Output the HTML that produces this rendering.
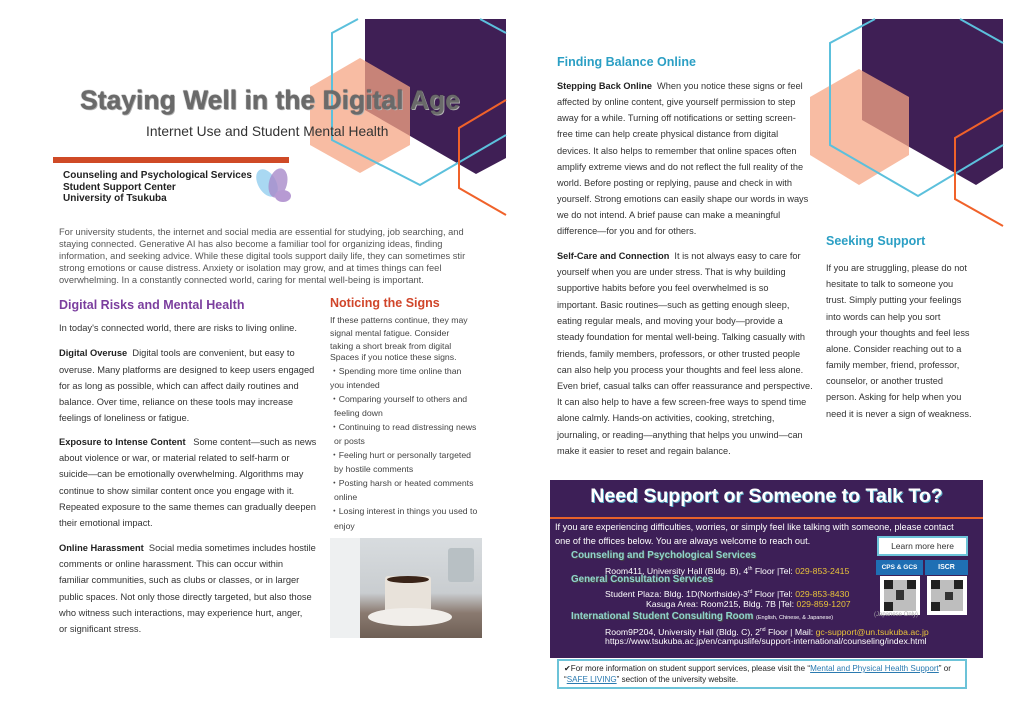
<!DOCTYPE html>
<html><head><meta charset="utf-8"><style>
*{margin:0;padding:0;box-sizing:border-box}
body{width:1024px;height:724px;position:relative;overflow:hidden;background:#fff;font-family:"Liberation Sans",sans-serif;color:#333}
.a{position:absolute;white-space:nowrap}
.t{position:absolute;white-space:nowrap;font-size:9.3px;line-height:16px;height:16px;color:#333}
.r{position:absolute;white-space:nowrap;font-size:9.2px;line-height:16px;height:16px;color:#333}
.s{position:absolute;white-space:nowrap;font-size:8.7px;line-height:14px;height:14px;color:#444}
.i{position:absolute;white-space:nowrap;font-size:9.3px;line-height:12px;color:#555}
b{font-weight:bold;color:#222}
.h{position:absolute;white-space:nowrap;font-weight:bold;font-size:12.5px}
.w{position:absolute;white-space:nowrap;font-size:9.2px;line-height:14px;color:#fff}
.org{position:absolute;white-space:nowrap;font-weight:bold;font-size:9.8px;line-height:12px;color:#8fd2cf;text-shadow:0 0 1px #555,1px 1px 0 #444}
.y{color:#e8c23a}
</style></head><body>
<svg class="a" style="left:0;top:0" width="1024" height="724">
<polygon points="365,19 506,19 506,158 476,174 365,110" fill="#3f1f55"/>
<polygon points="360,58 410,87 410,145 360,173 310,145 310,87" fill="#f6a584" opacity="0.75"/>
<polyline points="358,19 332,33 332,140 420,185 506,135" fill="none" stroke="#5cc0dc" stroke-width="2"/>
<line x1="480" y1="19" x2="506" y2="33" stroke="#5cc0dc" stroke-width="2"/>
<polyline points="506,100 459,128 459,188 506,215" fill="none" stroke="#f0622a" stroke-width="2"/>
<polygon points="862,19 1003,19 1003,168 976,185 862,120" fill="#3f1f55"/>
<polygon points="859,69 909,97 909,155 859,185 810,155 810,97" fill="#f6a584" opacity="0.75"/>
<polyline points="875,19 830,43 830,145 918,196 1003,145" fill="none" stroke="#5cc0dc" stroke-width="2"/>
<line x1="960" y1="19" x2="1003" y2="43" stroke="#5cc0dc" stroke-width="2"/>
<polyline points="1003,110 955,138 955,199 1003,226" fill="none" stroke="#f0622a" stroke-width="2"/>
<ellipse cx="267" cy="183" rx="9" ry="15" transform="rotate(-30 267 183)" fill="#a9d8f2"/>
<ellipse cx="278" cy="183" rx="9" ry="15" transform="rotate(15 278 183)" fill="#a78bc9" opacity="0.8"/>
<ellipse cx="283" cy="196" rx="8" ry="6" fill="#b79ad3"/>
</svg>

<div class="a" style="left:40px;top:85px;width:460px;text-align:center;font-size:26.5px;font-weight:bold;color:#6a6a6a;text-shadow:0 0 1px #333,1px 1px 0 #bbb">Staying Well in the Digital Age</div>
<div class="a" style="left:146px;top:124px;font-size:13.8px;color:#333">Internet Use and Student Mental Health</div>
<div class="a" style="left:53px;top:157px;width:236px;height:6px;background:#cf4a26"></div>
<div class="a" style="left:63px;top:170px;font-size:10px;font-weight:bold;line-height:11.5px;color:#222">Counseling and Psychological Services<br>Student Support Center<br>University of Tsukuba</div>

<div class="i" style="left:59px;top:226px">For university students, the internet and social media are essential for studying, job searching, and</div>
<div class="i" style="left:59px;top:238px">staying connected. Generative AI has also become a familiar tool for organizing ideas, finding</div>
<div class="i" style="left:59px;top:250px">information, and seeking advice. While these digital tools support daily life, they can sometimes stir</div>
<div class="i" style="left:59px;top:262px">strong emotions or cause distress. Anxiety or isolation may grow, and at times things can feel</div>
<div class="i" style="left:59px;top:274px">overwhelming. In a constantly connected world, caring for mental well-being is important.</div>

<div class="h" style="left:59px;top:298px;color:#7b3e9e">Digital Risks and Mental Health</div>
<div class="t" style="left:59px;top:320px">In today's connected world, there are risks to living online.</div>
<div class="t" style="left:59px;top:345px"><b>Digital Overuse</b>&nbsp; Digital tools are convenient, but easy to</div>
<div class="t" style="left:59px;top:362px">overuse. Many platforms are designed to keep users engaged</div>
<div class="t" style="left:59px;top:378px">for as long as possible, which can affect daily routines and</div>
<div class="t" style="left:59px;top:394px">balance. Over time, reliance on these tools may increase</div>
<div class="t" style="left:59px;top:410px">feelings of loneliness or fatigue.</div>
<div class="t" style="left:59px;top:434px"><b>Exposure to Intense Content</b>&nbsp;&nbsp; Some content—such as news</div>
<div class="t" style="left:59px;top:450px">about violence or war, or material related to self-harm or</div>
<div class="t" style="left:59px;top:466px">suicide—can be emotionally overwhelming. Algorithms may</div>
<div class="t" style="left:59px;top:483px">continue to show similar content once you engage with it.</div>
<div class="t" style="left:59px;top:499px">Repeated exposure to the same themes can gradually deepen</div>
<div class="t" style="left:59px;top:515px">their emotional impact.</div>
<div class="t" style="left:59px;top:540px"><b>Online Harassment</b>&nbsp; Social media sometimes includes hostile</div>
<div class="t" style="left:59px;top:556px">comments or online harassment. This can occur within</div>
<div class="t" style="left:59px;top:572px">familiar communities, such as clubs or classes, or in larger</div>
<div class="t" style="left:59px;top:589px">public spaces. Not only those directly targeted, but also those</div>
<div class="t" style="left:59px;top:605px">who witness such interactions, may experience hurt, anger,</div>
<div class="t" style="left:59px;top:621px">or significant stress.</div>

<div class="h" style="left:330px;top:296px;color:#d0452a">Noticing the Signs</div>
<div class="s" style="left:330px;top:313px">If these patterns continue, they may</div>
<div class="s" style="left:330px;top:326px">signal mental fatigue. Consider</div>
<div class="s" style="left:330px;top:339px">taking a short break from digital</div>
<div class="s" style="left:330px;top:350px">Spaces if you notice these signs.</div>
<div class="s" style="left:330px;top:364px">・Spending more time online than</div>
<div class="s" style="left:330px;top:378px">you intended</div>
<div class="s" style="left:330px;top:392px">・Comparing yourself to others and</div>
<div class="s" style="left:334px;top:406px">feeling down</div>
<div class="s" style="left:330px;top:420px">・Continuing to read distressing news</div>
<div class="s" style="left:334px;top:434px">or posts</div>
<div class="s" style="left:330px;top:448px">・Feeling hurt or personally targeted</div>
<div class="s" style="left:334px;top:462px">by hostile comments</div>
<div class="s" style="left:330px;top:476px">・Posting harsh or heated comments</div>
<div class="s" style="left:334px;top:490px">online</div>
<div class="s" style="left:330px;top:504px">・Losing interest in things you used to</div>
<div class="s" style="left:334px;top:519px">enjoy</div>
<div class="a" style="left:330px;top:538px;width:152px;height:100px;background:linear-gradient(180deg,#d8dcdf 0%,#c9cdd0 55%,#8a7a70 75%,#6e5f55 100%)">
<div class="a" style="left:0;top:0;width:30px;height:100px;background:#eef0f1"></div>
<div class="a" style="left:55px;top:38px;width:46px;height:44px;background:#e8e2da;border-radius:3px 3px 8px 8px"></div>
<div class="a" style="left:57px;top:38px;width:42px;height:7px;background:#3a2418;border-radius:50%"></div>
<div class="a" style="left:38px;top:70px;width:84px;height:18px;border-radius:50%;background:#f1eeea"></div>
<div class="a" style="left:118px;top:10px;width:26px;height:34px;background:#b8c0c4;border-radius:3px"></div>
</div>

<div class="h" style="left:557px;top:55px;color:#2b9fc4">Finding Balance Online</div>
<div class="r" style="left:557px;top:78px"><b>Stepping Back Online</b>&nbsp; When you notice these signs or feel</div>
<div class="r" style="left:557px;top:94px">affected by online content, give yourself permission to step</div>
<div class="r" style="left:557px;top:110px">away for a while. Turning off notifications or setting screen-</div>
<div class="r" style="left:557px;top:126px">free time can help create physical distance from digital</div>
<div class="r" style="left:557px;top:143px">devices. It also helps to remember that online spaces often</div>
<div class="r" style="left:557px;top:159px">amplify extreme views and do not reflect the full reality of the</div>
<div class="r" style="left:557px;top:175px">world. Before posting or replying, pause and check in with</div>
<div class="r" style="left:557px;top:191px">yourself. Strong emotions can easily shape our words in ways</div>
<div class="r" style="left:557px;top:207px">we do not intend. A brief pause can make a meaningful</div>
<div class="r" style="left:557px;top:223px">difference—for you and for others.</div>
<div class="r" style="left:557px;top:248px"><b>Self-Care and Connection</b>&nbsp; It is not always easy to care for</div>
<div class="r" style="left:557px;top:264px">yourself when you are under stress. That is why building</div>
<div class="r" style="left:557px;top:280px">supportive habits before you feel overwhelmed is so</div>
<div class="r" style="left:557px;top:297px">important. Basic routines—such as getting enough sleep,</div>
<div class="r" style="left:557px;top:313px">eating regular meals, and moving your body—provide a</div>
<div class="r" style="left:557px;top:329px">steady foundation for mental well-being. Talking casually with</div>
<div class="r" style="left:557px;top:346px">friends, family members, professors, or other trusted people</div>
<div class="r" style="left:557px;top:362px">can also help you process your thoughts and feel less alone.</div>
<div class="r" style="left:557px;top:378px">Even brief, casual talks can offer reassurance and perspective.</div>
<div class="r" style="left:557px;top:394px">It can also help to have a few screen-free ways to spend time</div>
<div class="r" style="left:557px;top:410px">alone calmly. Hands-on activities, cooking, stretching,</div>
<div class="r" style="left:557px;top:427px">journaling, or reading—anything that helps you unwind—can</div>
<div class="r" style="left:557px;top:443px">make it easier to reset and regain balance.</div>

<div class="h" style="left:826px;top:234px;color:#2b9fc4">Seeking Support</div>
<div class="r" style="left:826px;top:260px">If you are struggling, please do not</div>
<div class="r" style="left:826px;top:276px">hesitate to talk to someone you</div>
<div class="r" style="left:826px;top:292px">trust. Simply putting your feelings</div>
<div class="r" style="left:826px;top:309px">into words can help you sort</div>
<div class="r" style="left:826px;top:325px">through your thoughts and feel less</div>
<div class="r" style="left:826px;top:341px">alone. Consider reaching out to a</div>
<div class="r" style="left:826px;top:357px">family member, friend, professor,</div>
<div class="r" style="left:826px;top:373px">counselor, or another trusted</div>
<div class="r" style="left:826px;top:389px">person. Asking for help when you</div>
<div class="r" style="left:826px;top:406px">need it is never a sign of weakness.</div>

<div class="a" style="left:550px;top:480px;width:433px;height:178px;background:#3d1f57"></div>
<div class="a" style="left:550px;top:485px;width:433px;text-align:center;font-size:19.5px;font-weight:bold;color:#fff;text-shadow:1px 1px 0 #5aaec8">Need Support or Someone to Talk To?</div>
<div class="a" style="left:550px;top:517px;width:433px;height:2px;background:#e8622a"></div>
<div class="w" style="left:555px;top:520px">If you are experiencing difficulties, worries, or simply feel like talking with someone, please contact</div>
<div class="w" style="left:555px;top:534px">one of the offices below. You are always welcome to reach out.</div>
<div class="org" style="left:571px;top:550px">Counseling and Psychological Services</div>
<div class="w" style="left:605px;top:562px;font-size:8.7px">Room411, University Hall (Bldg. B), 4<sup style="font-size:5px">th</sup> Floor  |Tel: <span class="y">029-853-2415</span></div>
<div class="org" style="left:571px;top:574px">General Consultation Services</div>
<div class="w" style="left:605px;top:585px;font-size:8.7px">Student Plaza: Bldg. 1D(Northside)-3<sup style="font-size:5px">rd</sup> Floor  |Tel: <span class="y">029-853-8430</span></div>
<div class="w" style="left:646px;top:597px;font-size:8.7px">Kasuga Area: Room215, Bldg. 7B  |Tel: <span class="y">029-859-1207</span></div>
<div class="org" style="left:571px;top:611px">International Student Consulting Room <span style="font-size:5.5px;font-weight:normal;color:#fff;text-shadow:none">(English, Chinese, &amp; Japanese)</span></div>
<div class="w" style="left:605px;top:623px;font-size:8.7px">Room9P204, University Hall (Bldg. C), 2<sup style="font-size:5px">nd</sup> Floor  | Mail: <span class="y">gc-support@un.tsukuba.ac.jp</span></div>
<div class="w" style="left:605px;top:634px;font-size:8.7px">https://www.tsukuba.ac.jp/en/campuslife/support-international/counseling/index.html</div>
<div class="a" style="left:877px;top:536px;width:91px;height:20px;background:#fff;border:2px solid #6cc3d8;font-size:8.5px;line-height:16px;text-align:center;color:#333">Learn more here</div>
<div class="a" style="left:876px;top:560px;width:47px;height:15px;background:#1f6fb4;color:#fff;font-size:6.5px;font-weight:bold;line-height:15px;text-align:center">CPS &amp; GCS</div>
<div class="a" style="left:925px;top:560px;width:43px;height:15px;background:#1f6fb4;color:#fff;font-size:7px;font-weight:bold;line-height:15px;text-align:center">ISCR</div>
<svg class="a" style="left:880px;top:576px" width="40" height="39"><rect width="40" height="39" fill="#fff"/><rect x="4" y="4" width="32" height="31" fill="#888" opacity="0.55"/><rect x="4" y="4" width="9" height="9" fill="#222"/><rect x="27" y="4" width="9" height="9" fill="#222"/><rect x="4" y="26" width="9" height="9" fill="#222"/><rect x="16" y="14" width="8" height="10" fill="#333"/></svg>
<svg class="a" style="left:927px;top:576px" width="40" height="39"><rect width="40" height="39" fill="#fff"/><rect x="4" y="4" width="32" height="31" fill="#888" opacity="0.55"/><rect x="4" y="4" width="9" height="9" fill="#222"/><rect x="27" y="4" width="9" height="9" fill="#222"/><rect x="4" y="26" width="9" height="9" fill="#222"/><rect x="18" y="16" width="8" height="8" fill="#333"/></svg>
<div class="a" style="left:874px;top:612px;font-size:6px;color:#aaa">(Japanese Only)</div>

<div class="a" style="left:557px;top:659px;width:410px;height:30px;border:2px solid #6cc3d8;background:#fff"></div>
<div class="a" style="left:564px;top:663px;font-size:8.1px;line-height:11px;color:#222">✔For more information on student support services, please visit the “<span style="color:#2a7ab0;text-decoration:underline">Mental and Physical Health Support</span>” or<br>“<span style="color:#2a7ab0;text-decoration:underline">SAFE LIVING</span>” section of the university website.</div>
</body></html>
